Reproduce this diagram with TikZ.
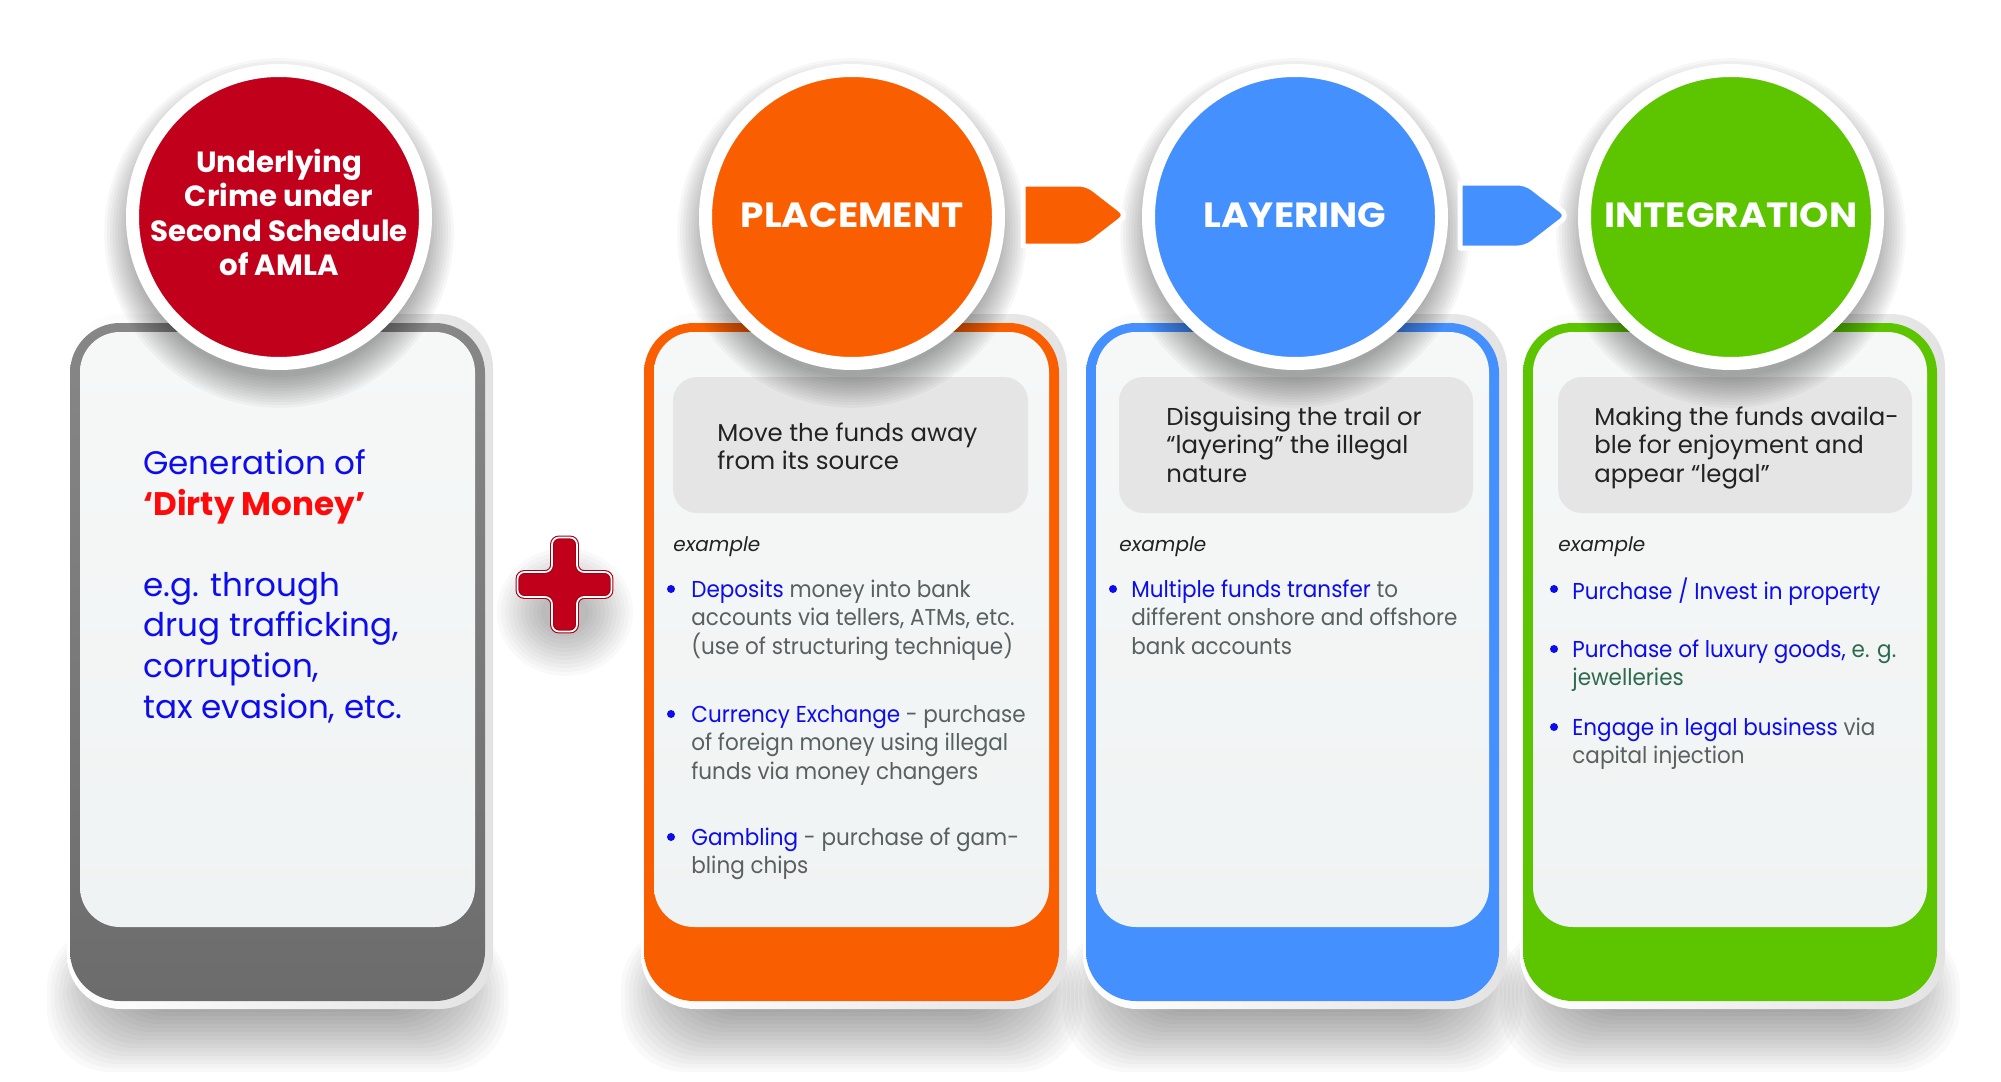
\documentclass[tikz,border=0pt]{standalone}
\usepackage{fontspec}
\setmainfont{Poppins}
\newfontfamily\bodyfont{Poppins}[FakeStretch=0.935]
\newfontfamily\titlefont{Poppins}[FakeStretch=1.07]
\definecolor{cRed}{HTML}{C1001B}
\definecolor{cRedD}{HTML}{A30016}
\definecolor{cOrange}{HTML}{F95F00}
\definecolor{cBlue}{HTML}{4590FF}
\definecolor{cGreen}{HTML}{5CC500}
\definecolor{cGrayT}{HTML}{878787}
\definecolor{cGrayB}{HTML}{6C6C6C}
\definecolor{panelT}{HTML}{F6F8F8}
\definecolor{panelB}{HTML}{F0F3F3}
\definecolor{descFill}{HTML}{E5E5E5}
\definecolor{tBlue}{HTML}{0D0DEB}
\definecolor{tGray}{HTML}{586060}
\definecolor{tGreen}{HTML}{2E6A50}
\definecolor{tRed}{HTML}{FF0A0A}
\definecolor{tDark}{HTML}{222222}
\newcommand\stagecard[4]{%
  \path[halo, rounded corners=27pt] (#1-3,314) rectangle (#2+8,1009);
  \path[rounded corners=25pt, top color=#3, middle color=#3, bottom color=#4] (#1,323) rectangle (#2,1001);
  \path[rounded corners=20pt, top color=panelT, bottom color=panelB] (#1+10,332) rectangle (#2-10,927);
}
\newcommand\softcardshadow[2]{%
  \foreach \k in {0,...,17} {\fill[shadowlayer, rounded corners=32pt] (#1+45-\k*4,950-\k*1.5) rectangle (#2-45+\k*4,1004+\k*4);}%
}
\newcommand\softringshadow[1]{%
  \foreach \k in {0,...,11} {\fill[black, opacity=0.03] (#1,233) circle[radius=72pt+\k*1.4pt];}%
}
\newcommand\bodyasc{\rule{0pt}{10pt}}
\begin{document}
\begin{tikzpicture}[x=0.5pt,y=-0.5pt,
  shadowlayer/.style={black, opacity=0.024},
  halo/.style={left color=white, right color=black!11},
  ring/.style={circle, inner sep=0pt, minimum size=146.5pt, draw=white, line width=6.5pt},
  descbox/.style={fill=descFill, rounded corners=12pt},
  arrowshape/.style={draw=white, line width=2.5pt, line join=round},
  plusmark/.style={fill=cRed, draw=cRedD, double=white, double distance=0.85pt, line width=0.55pt, rounded corners=3.5pt},
  title/.style={font=\titlefont\bfseries\fontsize{17.5}{20}\selectfont, text=white, anchor=base, inner sep=0pt},
  circtext/.style={font=\bfseries\fontsize{14.6}{17.25}\selectfont, text=white, align=center, anchor=north, inner sep=0pt},
  lefttext/.style={font=\fontsize{16.3}{20.3}\selectfont, text=tBlue, align=left, anchor=north west, inner sep=0pt},
  desctext/.style={font=\fontsize{12.2}{14.25}\selectfont, text=tDark, align=left, anchor=north west, inner sep=0pt},
  body/.style={font=\bodyfont\fontsize{11.5}{14.25}\selectfont, text=tGray, align=left, anchor=north west, inner sep=0pt},
  ex/.style={font=\itshape\fontsize{10}{12}\selectfont, text=tDark, anchor=base west, inner sep=0pt},
  dot/.style={fill=tBlue}
]
\useasboundingbox (0,0) rectangle (2001,1081);
\fill[white] (0,0) rectangle (2001,1081);
% card shadows
\softcardshadow{70}{485}
\softcardshadow{644}{1059}
\softcardshadow{1086}{1499}
\softcardshadow{1523}{1937}
% plus shadow
\foreach \k in {0,...,11} {\fill[black, opacity=0.022] (565,612) ellipse[x radius=12pt+\k*2pt, y radius=10pt+\k*2pt];}
% cards
\stagecard{70}{485}{cGrayT}{cGrayB}
\stagecard{644}{1059}{cOrange}{cOrange}
\stagecard{1086}{1499}{cBlue}{cBlue}
\stagecard{1523}{1937}{cGreen}{cGreen}
% description boxes
\path[descbox] (673,377) rectangle (1028,513);
\path[descbox] (1119,377) rectangle (1473,513);
\path[descbox] (1558,377) rectangle (1912,513);
% circle shadows
\softringshadow{279}
\softringshadow{852}
\softringshadow{1295}
\softringshadow{1731}
% circles
\node[ring, fill=cRed] (crime) at (279,217) {};
\node[ring, fill=cOrange] (place) at (852,217) {};
\node[ring, fill=cBlue] (layer) at (1295,217) {};
\node[ring, fill=cGreen] (integ) at (1731,217) {};
% arrows
\path[arrowshape, fill=cOrange] (1023,184) [rounded corners=4pt] -- (1087,184) -- (1127,215) -- (1087,246) [sharp corners] -- (1023,246) -- cycle;
\path[arrowshape, fill=cBlue] (1460,183) [rounded corners=4pt] -- (1526,183) -- (1568,215.5) -- (1526,248) [sharp corners] -- (1460,248) -- cycle;
% plus
\path[plusmark] (552,537.5) -- (577,537.5) -- (577,572) -- (611.5,572) -- (611.5,597) -- (577,597) -- (577,631.5) -- (552,631.5) -- (552,597) -- (517.5,597) -- (517.5,572) -- (552,572) -- cycle;
% circle texts
\node[circtext] (crimetxt) at (279,148) {\rule{0pt}{12pt}Underlying\\Crime under\\Second Schedule\\of AMLA};
\node[title] (placetxt) at (852,227) {PLACEMENT};
\node[title] (layertxt) at (1295,227) {LAYERING};
\node[title] (integtxt) at (1731,227) {INTEGRATION};
% left card text
\node[lefttext] (gen) at (143,448) {\rule{0pt}{13pt}Generation of\\\textcolor{tRed}{\bfseries ‘Dirty Money’}\\[20.3pt]e.g. through\\drug trafficking,\\corruption,\\tax evasion, etc.};
% description texts
\node[desctext] (d1) at (717,421) {\bodyasc Move the funds away\\from its source};
\node[desctext] (d2) at (1166,405) {\bodyasc Disguising the trail or\\“layering” the illegal\\nature};
\node[desctext] (d3) at (1594,405) {\bodyasc Making the funds availa-\\ble for enjoyment and\\appear “legal”};
% example labels
\node[ex] (ex1) at (673,551) {example};
\node[ex] (ex2) at (1119,551) {example};
\node[ex] (ex3) at (1558,551) {example};
% placement bullets
\fill[dot] (671,589) circle[radius=2pt];
\node[body] (p1) at (691,577) {\bodyasc\textcolor{tBlue}{Deposits} money into bank\\accounts via tellers, ATMs, etc.\\(use of structuring technique)};
\fill[dot] (671,714) circle[radius=2pt];
\node[body] (p2) at (691,702) {\bodyasc\textcolor{tBlue}{Currency Exchange} - purchase\\of foreign money using illegal\\funds via money changers};
\fill[dot] (671,837) circle[radius=2pt];
\node[body] (p3) at (691,825) {\bodyasc\textcolor{tBlue}{Gambling} - purchase of gam-\\bling chips};
% layering bullets
\fill[dot] (1113,589) circle[radius=2pt];
\node[body] (l1) at (1131,577) {\bodyasc\textcolor{tBlue}{Multiple funds transfer} to\\different onshore and offshore\\bank accounts};
% integration bullets
\fill[dot] (1554,589) circle[radius=2pt];
\node[body] (i1) at (1572,577) {\bodyasc\textcolor{tBlue}{Purchase / Invest in property}};
\fill[dot] (1554,649) circle[radius=2pt];
\node[body, text=tGreen] (i2) at (1572,637) {\bodyasc\textcolor{tBlue}{Purchase of luxury goods,} e. g.\\jewelleries};
\fill[dot] (1554,727) circle[radius=2pt];
\node[body] (i3) at (1572,715) {\bodyasc\textcolor{tBlue}{Engage in legal business} via\\capital injection};
\end{tikzpicture}
\end{document}
